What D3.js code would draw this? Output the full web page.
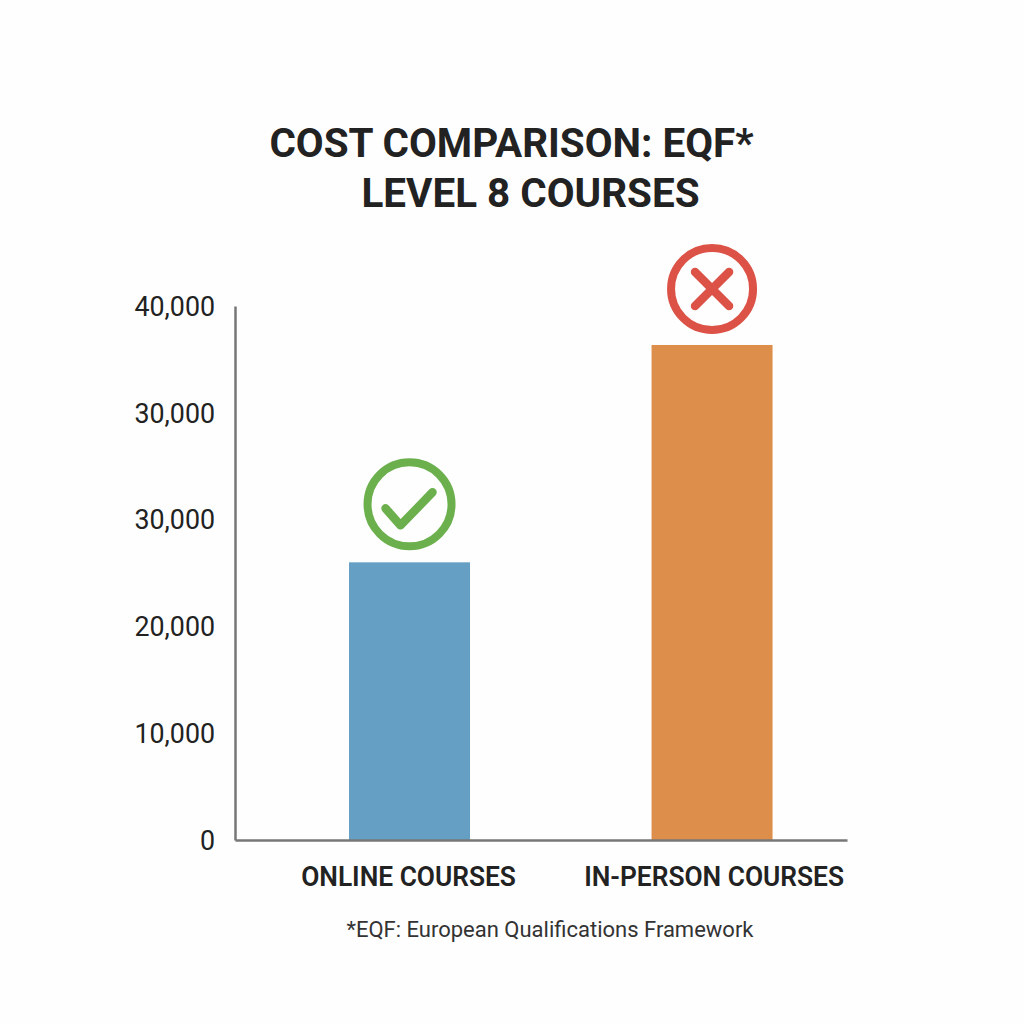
<!DOCTYPE html>
<html>
<head>
<meta charset="utf-8">
<script src="https://cdn.jsdelivr.net/npm/d3@7"></script>
<style>
  html, body { margin: 0; background: #fefefe; }
  text { font-family: Roboto, sans-serif; fill: #222; }
</style>
</head>
<body>
<script>
const categories = ["ONLINE COURSES", "IN-PERSON COURSES"];
// bars read against evenly spaced gridline positions (the picture prints 30,000 twice)
const values = [26000, 46350];
const tickValues = [0, 10000, 20000, 30000, 40000, 50000];
const tickLabels = ["0", "10,000", "20,000", "30,000", "30,000", "40,000"];
const barColors = ["#659fc3", "#dd8e4b"];
const titleLines = ["COST COMPARISON: EQF*", "LEVEL 8 COURSES"];
const footnote = "*EQF: European Qualifications Framework";

const width = 1024, height = 1024;

const svg = d3.select("body").append("svg")
    .attr("viewBox", [0, 0, width, height])
    .attr("width", width)
    .attr("height", height)
    .style("display", "block");

const x = d3.scaleBand()
    .domain(categories)
    .range([235, 847])
    .paddingInner(0.6)
    .paddingOuter(0.3115)
    .align(0.605);

const y = d3.scaleLinear()
    .domain([0, 50000])
    .range([840, 306]);

svg.append("g")
  .selectAll("rect")
  .data(categories)
  .join("rect")
    .attr("x", d => x(d))
    .attr("y", (d, i) => y(values[i]))
    .attr("width", x.bandwidth())
    .attr("height", (d, i) => y(0) - y(values[i]))
    .attr("fill", (d, i) => barColors[i]);

// y axis, labels come from the list by position
const yAxis = svg.append("g")
    .attr("transform", "translate(235,0)")
    .call(d3.axisLeft(y)
      .tickValues(tickValues)
      .tickFormat((d, i) => tickLabels[i])
      .tickSize(0)
      .tickPadding(20));
yAxis.select(".domain").attr("stroke", "#777").attr("stroke-width", 2.5);
yAxis.selectAll("text")
    .style("font-size", "26.8px")
    .style("font-family", "Roboto, sans-serif")
    .attr("dy", "0.35em");

const xAxis = svg.append("g")
    .attr("transform", "translate(0,840)")
    .call(d3.axisBottom(x).tickSize(0).tickPadding(26));
xAxis.select(".domain").attr("stroke", "#777").attr("stroke-width", 2.5);
xAxis.selectAll("text")
    .style("font-size", "28px")
    .style("font-weight", 600)
    .style("font-family", "Roboto, sans-serif")
    .attr("transform", "scale(0.94,1)");
xAxis.selectAll(".tick")
    .attr("transform", d => `translate(${x(d) + x.bandwidth() / 2 + (d === categories[1] ? 2 : -1)},0)`);

// check mark above the online bar
const check = svg.append("g")
    .attr("transform", `translate(${x(categories[0]) + x.bandwidth() / 2},${y(values[0]) - 58})`)
    .attr("fill", "none")
    .attr("stroke", "#6cb04e")
    .attr("stroke-linecap", "round")
    .attr("stroke-linejoin", "round");
check.append("circle").attr("r", 42).attr("stroke-width", 8);
check.append("path").attr("d", "M-24,4L-9,21L23,-12").attr("stroke-width", 8.5);

// cross above the in-person bar
const cross = svg.append("g")
    .attr("transform", `translate(${x(categories[1]) + x.bandwidth() / 2},${y(values[1]) - 56})`)
    .attr("fill", "none")
    .attr("stroke", "#dc5247")
    .attr("stroke-linecap", "round");
cross.append("circle").attr("r", 41).attr("stroke-width", 8);
cross.append("path").attr("d", "M-17,-17L17,17M-17,17L17,-17").attr("stroke-width", 8.5);

svg.append("g")
    .attr("text-anchor", "middle")
    .style("font-size", "40.4px")
    .style("font-weight", 700)
  .selectAll("text")
  .data(titleLines)
  .join("text")
    .attr("x", (d, i) => i ? 530.5 : 511.5)
    .attr("y", (d, i) => 157 + i * 50)
    .text(d => d);

svg.append("text")
    .attr("x", 550)
    .attr("y", 937)
    .attr("text-anchor", "middle")
    .style("font-size", "22px")
    .style("fill", "#333")
    .text(footnote);
</script>
</body>
</html>
